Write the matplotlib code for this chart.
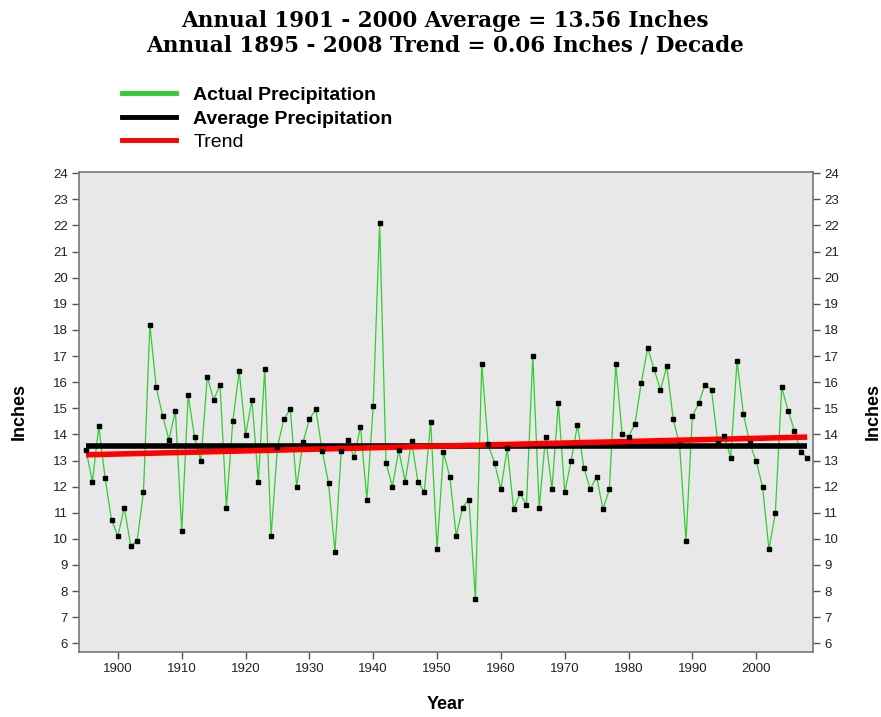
import numpy as np
import matplotlib
matplotlib.use("Agg")
import matplotlib.pyplot as plt
from matplotlib.lines import Line2D

years = list(range(1895, 2009))
precip = [
    13.40, 12.19, 14.31, 12.32, 10.72, 10.11, 11.20, 9.73, 9.93, 11.78,   # 1895-1904
    18.20, 15.80, 14.72, 13.79, 14.91, 10.31, 15.51, 13.90, 12.98, 16.21, # 1905-1914
    15.32, 15.91, 11.20, 14.51, 16.42, 13.99, 15.32, 12.18, 16.52, 10.12, # 1915-1924
    13.53, 14.58, 14.97, 12.00, 13.70, 14.58, 14.97, 13.38, 12.13, 9.51,  # 1925-1934
    13.38, 13.79, 13.12, 14.30, 11.50, 15.10, 22.10, 12.92, 12.00, 13.40, # 1935-1944
    12.19, 13.76, 12.19, 11.80, 14.49, 9.60, 13.31, 12.38, 10.11, 11.20,  # 1945-1954
    11.50, 7.71, 16.70, 13.62, 12.92, 11.90, 13.47, 11.13, 11.74, 11.30,  # 1955-1964
    17.00, 11.18, 13.91, 11.90, 15.19, 11.78, 12.98, 14.37, 12.73, 11.90, # 1965-1974
    12.38, 11.13, 11.90, 16.70, 14.00, 13.91, 14.40, 15.98, 17.31, 16.50, # 1975-1984
    15.70, 16.61, 14.58, 13.60, 9.93, 14.70, 15.19, 15.91, 15.70, 13.66,  # 1985-1994
    13.94, 13.11, 16.81, 14.78, 13.66, 12.98, 11.99, 9.60, 10.99, 15.80,  # 1995-2004
    14.91, 14.14, 13.34, 13.11                                            # 2005-2008
]
average_value = 13.56
trend_start_value = 13.22      # trend value at 1895
trend_per_decade = 0.06

title_lines = ["Annual 1901 - 2000 Average = 13.56 Inches",
               "Annual 1895 - 2008 Trend = 0.06 Inches / Decade"]
legend_labels = ["Actual Precipitation", "Average Precipitation", "Trend"]
x_ticks = list(range(1900, 2001, 10))
y_ticks = list(range(6, 25))

yrs = np.array(years)
vals = np.array(precip)
trend = trend_start_value + (yrs - yrs[0]) * trend_per_decade / 10.0

fig = plt.figure(figsize=(8.81, 7.17), dpi=100)
ax = fig.add_axes([79/881, 1 - 651.7/717, (813 - 79)/881, (651.7 - 171.7)/717])
ax.set_facecolor("#e8e8e8")

green = "#33cc33"
ax.plot(yrs, vals, color=green, lw=0.9, zorder=2)
ax.plot([yrs[0], yrs[-1]], [average_value, average_value], color="black", lw=4.0,
        solid_capstyle="butt", zorder=3)
ax.plot(yrs, trend, color="#ff0000", lw=4.0, solid_capstyle="butt", zorder=4)
ax.plot(yrs, vals, ls="none", marker="s", ms=3.2, color="black", zorder=5)

ax.set_xlim(1893.9, 2008.9)
ax.set_ylim(5.68, 24.06)
ax.set_xticks(x_ticks)
ax.set_yticks(y_ticks)

tickfont = dict(family=["Liberation Sans Narrow", "Liberation Sans", "DejaVu Sans"], size=9.5)
ax.set_xticklabels([str(t) for t in x_ticks], **tickfont, color="#222222")
ax.set_yticklabels([str(t) for t in y_ticks], **tickfont, color="#222222")
ax.tick_params(axis="both", direction="out", length=5, width=1.0, color="#555555", pad=3)
ax.tick_params(axis="y", right=True, labelright=True)
for s in ax.spines.values():
    s.set_color("#777777")
    s.set_linewidth(1.2)

labfont = dict(family=["Liberation Sans", "DejaVu Sans"], weight="bold", size=13)
ax.set_xlabel("Year", **labfont, labelpad=15)
ax.set_ylabel("Inches", **labfont, labelpad=18)
ax2 = ax.secondary_yaxis("right")
ax2.set_yticks([])
ax2.spines["right"].set_visible(False)
ax2.set_ylabel("Inches", **labfont, labelpad=37)

titlefont = dict(family=["DejaVu Serif", "Liberation Serif"], weight="bold", size=15.5)
fig.text(0.505, 1 - 21/717, title_lines[0], ha="center", va="center", **titlefont)
fig.text(0.505, 1 - 46/717, title_lines[1], ha="center", va="center", **titlefont)

handles = [Line2D([], [], color="#33cc33", lw=3.5),
           Line2D([], [], color="black", lw=3.5),
           Line2D([], [], color="#ff0000", lw=3.5)]
leg = fig.legend(handles, legend_labels, loc="upper left",
                 bbox_to_anchor=(104/881, 1 - 69/717), frameon=False,
                 handlelength=2.8, handletextpad=0.9, labelspacing=0.3,
                 prop=dict(family=["Liberation Sans", "DejaVu Sans"], size=14, weight="bold"))
leg.get_texts()[2].set_fontweight("normal")

fig.savefig("out.png", dpi=100)
